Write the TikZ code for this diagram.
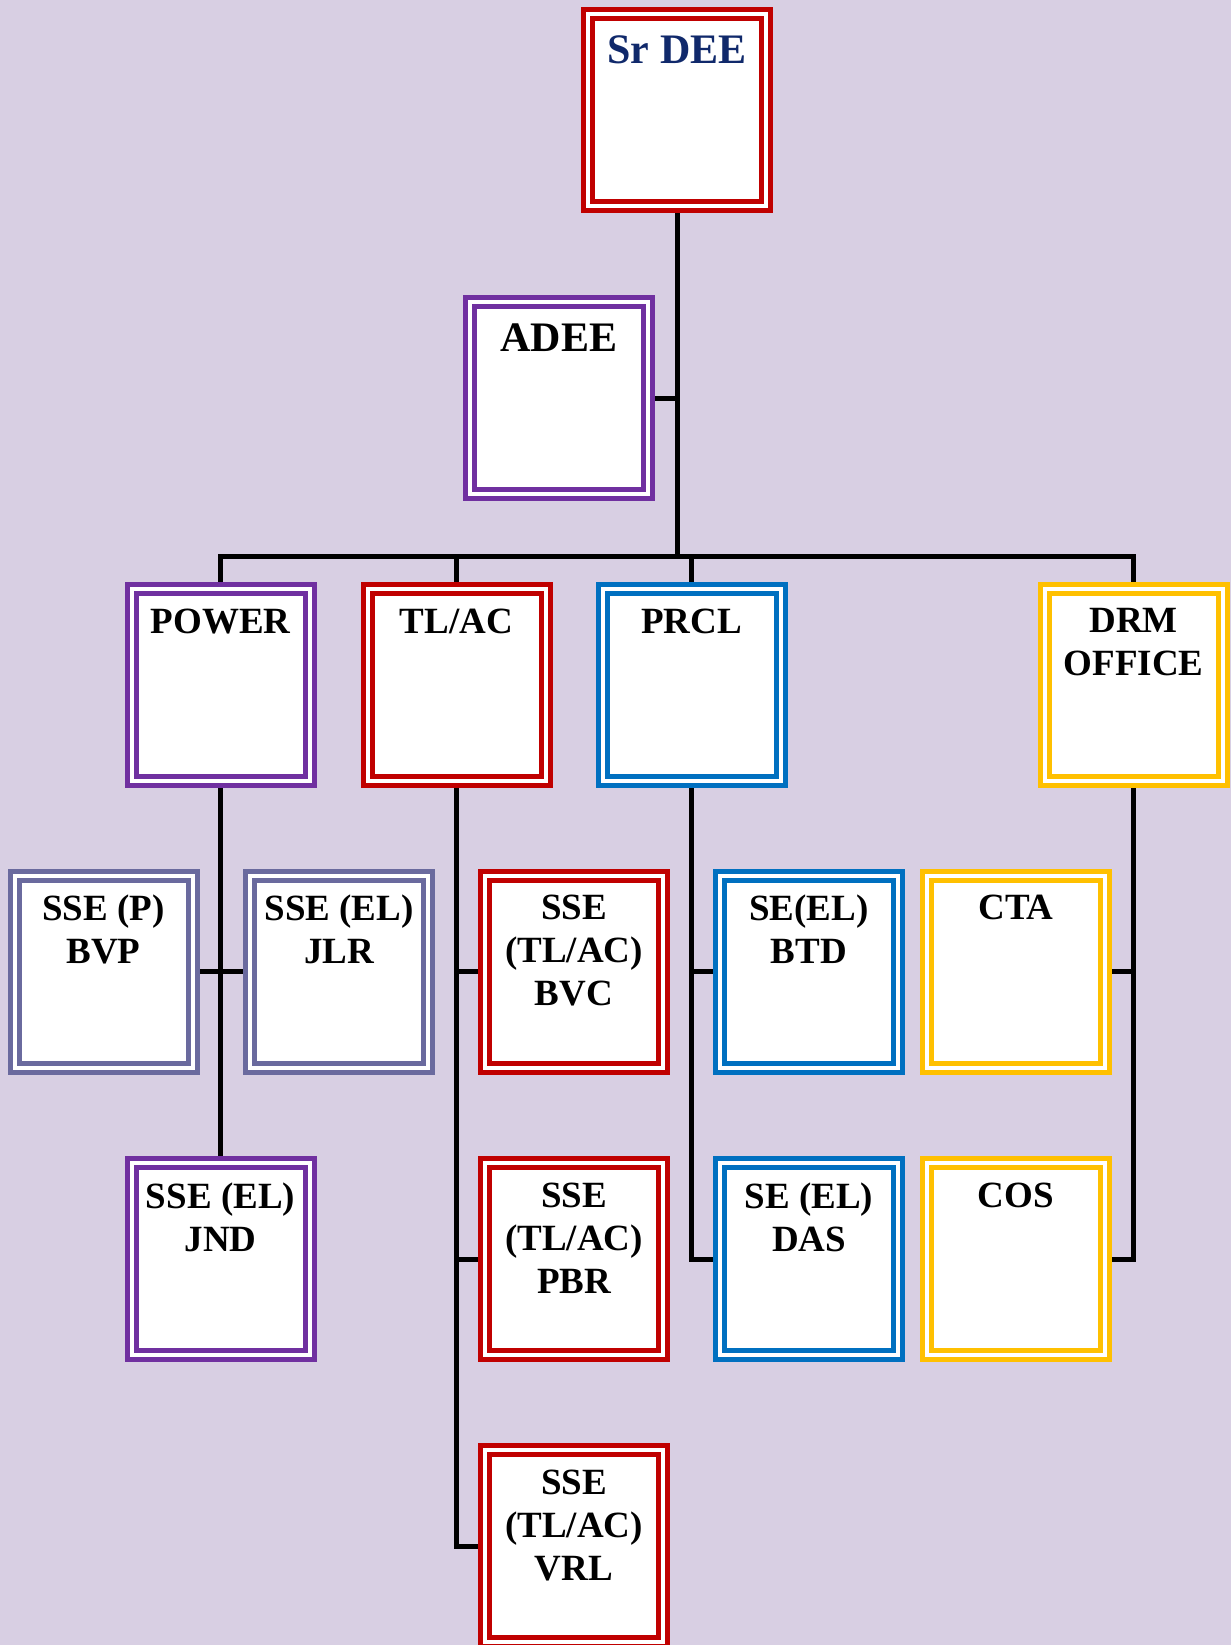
\documentclass[tikz,border=0pt]{standalone}
\usepackage{fontspec}
\setmainfont{Liberation Serif}
\usetikzlibrary{backgrounds}
\definecolor{bglav}{RGB}{216,207,227}
\definecolor{offred}{HTML}{C00000}
\definecolor{offviolet}{HTML}{7030A0}
\definecolor{offslate}{HTML}{6A6A9E}
\definecolor{offblue}{HTML}{0070C0}
\definecolor{offgold}{HTML}{FFC000}
\definecolor{navy}{HTML}{10296B}
\begin{document}
\begin{tikzpicture}[x=1pt,y=-1pt,
  box/.style={draw=#1,line width=5pt,double=white,double distance=4pt,fill=white,
    minimum width=178pt,minimum height=192pt,inner sep=0pt},
  lbl/.style={anchor=north,yshift=-22pt,inner sep=0pt,align=center,
    font=\fontsize{37}{43}\selectfont\bfseries},
  big/.style={yshift=-2pt,font=\fontsize{42}{48}\selectfont\bfseries},
  conn/.style={line width=5pt}]
\useasboundingbox (0,0) rectangle (1231,1645);
\begin{scope}[on background layer]
\fill[bglav] (0,0) rectangle (1231,1645);
\end{scope}
% top
\node[box=offred,label={[lbl,big,text=navy]north:Sr DEE}] (srdee) at (677,110) {};
\node[box=offviolet,label={[lbl,big]north:ADEE}] (adee) at (559,398) {};
\coordinate (bus) at (677,556);
% sections
\node[box=offviolet,label={[lbl]north:POWER}] (power) at (220.5,685) {};
\node[box=offred,label={[lbl]north:TL/AC}] (tlac) at (456.5,685) {};
\node[box=offblue,label={[lbl]north:PRCL}] (prcl) at (691.5,685) {};
\node[box=offgold,label={[lbl]north:DRM\\OFFICE}] (drm) at (1133.5,685) {};
% depots
\node[box=offslate,label={[lbl]north:SSE (P)\\BVP}] (bvp) at (103.5,971.5) {};
\node[box=offslate,label={[lbl]north:SSE (EL)\\JLR}] (jlr) at (339,971.5) {};
\node[box=offred,label={[lbl]north:SSE\\(TL/AC)\\BVC}] (bvc) at (574,971.5) {};
\node[box=offblue,label={[lbl]north:SE(EL)\\BTD}] (btd) at (809,971.5) {};
\node[box=offgold,label={[lbl]north:CTA}] (cta) at (1016,971.5) {};
\node[box=offviolet,label={[lbl]north:SSE (EL)\\JND}] (jnd) at (220.5,1259) {};
\node[box=offred,label={[lbl]north:SSE\\(TL/AC)\\PBR}] (pbr) at (574,1259) {};
\node[box=offblue,label={[lbl]north:SE (EL)\\DAS}] (das) at (809,1259) {};
\node[box=offgold,label={[lbl]north:COS}] (cos) at (1016,1259) {};
\node[box=offred,label={[lbl]north:SSE\\(TL/AC)\\VRL}] (vrl) at (574,1546) {};
% connectors
\begin{scope}[on background layer]
\draw[conn] (srdee) -- (bus);
\draw[conn] (adee) -- (adee -| srdee);
\draw[conn] (power) |- (bus) -| (drm);
\draw[conn] (tlac) -- (tlac |- bus);
\draw[conn] (prcl) -- (prcl |- bus);
\draw[conn] (power) -- (jnd);
\draw[conn] (bvp) -- (jlr);
\draw[conn] (tlac) |- (vrl);
\draw[conn] (tlac |- bvc) -- (bvc);
\draw[conn] (tlac |- pbr) -- (pbr);
\draw[conn] (prcl) |- (das);
\draw[conn] (prcl |- btd) -- (btd);
\draw[conn] (drm) |- (cos);
\draw[conn] (drm |- cta) -- (cta);
\end{scope}
\end{tikzpicture}
\end{document}
